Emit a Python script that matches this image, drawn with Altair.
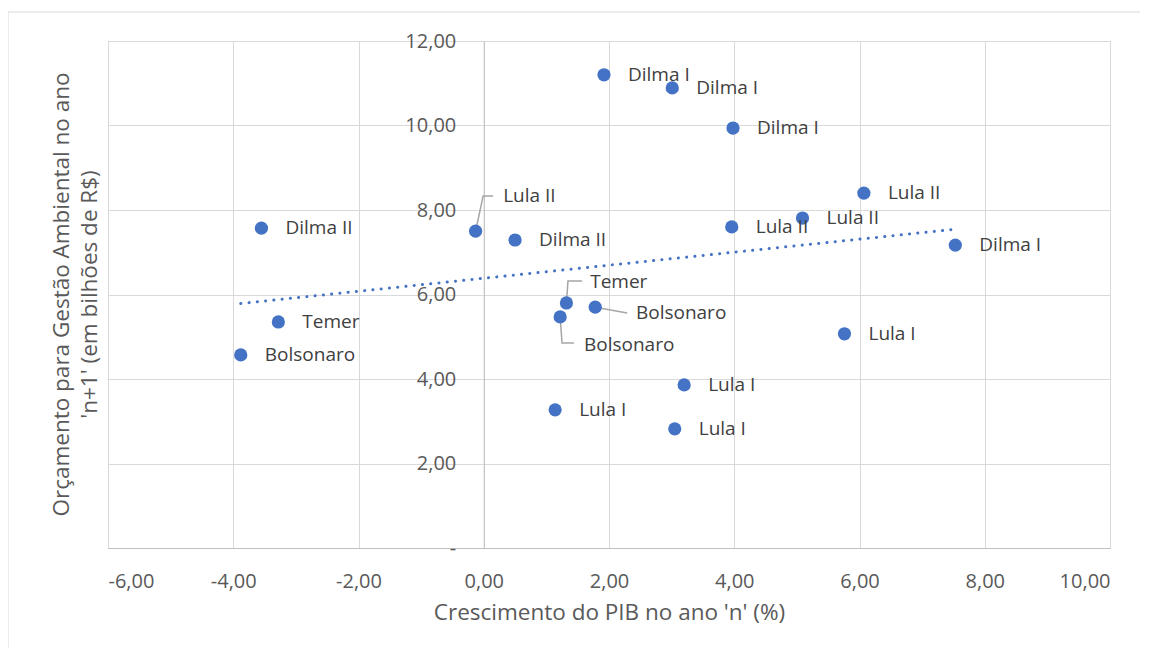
import altair as alt
import pandas as pd

# ---------------- data ----------------
governo = ["Dilma I", "Dilma I", "Dilma I", "Lula II", "Lula II", "Lula II", "Dilma I",
           "Dilma II", "Lula II", "Dilma II", "Temer", "Bolsonaro", "Bolsonaro", "Temer",
           "Bolsonaro", "Lula I", "Lula I", "Lula I", "Lula I"]
pib = [1.92, 3.01, 3.98, 6.07, 5.09, 3.96, 7.53,
       -3.55, -0.13, 0.50, 1.32, 1.78, 1.22, -3.28,
       -3.88, 5.76, 3.20, 1.14, 3.05]
orcamento = [11.20, 10.89, 9.94, 8.40, 7.81, 7.60, 7.17,
             7.57, 7.50, 7.29, 5.80, 5.70, 5.47, 5.35,
             4.57, 5.07, 3.86, 3.27, 2.82]

x_ticks = [-6, -4, -2, 0, 2, 4, 6, 8, 10]
y_ticks = [0, 2, 4, 6, 8, 10, 12]

# labels that Excel placed away from their point, with a leader line
callout_index = [8, 10, 11, 12]
callout_text_x = [0.31, 1.70, 2.43, 1.60]
callout_text_y = [8.33, 6.30, 5.56, 4.80]
leader_elbow_x = [[-0.01, 0.15], [1.345, 1.57], [2.29], [1.25, 1.44]]
leader_elbow_y = [[8.33, 8.33], [6.32, 6.32], [5.56], [4.85, 4.85]]

# ---------------- tables ----------------
pts = pd.DataFrame({"governo": governo, "pib": pib, "orc": orcamento})
pts["callout"] = [i in callout_index for i in range(len(pts))]

lead_rows = []
for k, idx in enumerate(callout_index):
    lead_rows.append({"g": k, "o": 0, "pib": pib[idx], "orc": orcamento[idx]})
    for j, (ex, ey) in enumerate(zip(leader_elbow_x[k], leader_elbow_y[k])):
        lead_rows.append({"g": k, "o": j + 1, "pib": ex, "orc": ey})
leaders = pd.DataFrame(lead_rows)

callouts = pd.DataFrame({
    "governo": [governo[i] for i in callout_index],
    "pib": callout_text_x,
    "orc": callout_text_y,
})

FONT = "Open Sans"
BLUE = "#4472C4"
GRID = "#d9d9d9"
AXIS = "#bfbfbf"
TXT = "#595959"

common_axis = dict(
    labelFont=FONT, titleFont=FONT, labelFontSize=20, titleFontSize=22.5,
    labelColor=TXT, titleColor=TXT, titleFontWeight="normal",
    ticks=False, domainColor=AXIS, gridColor=GRID,
)

num_fmt = "replace(replace(format(datum.value, '.2f'), '.', ','), '\u2212', '-')"

x_enc = alt.X(
    "pib:Q",
    scale=alt.Scale(domain=[-6, 10], nice=False, zero=False),
    axis=alt.Axis(
        values=x_ticks,
        labelExpr=num_fmt,
        title="Crescimento do PIB no ano 'n' (%)",
        labelPadding=23,
        titlePadding=10,
        **common_axis,
    ),
)
y_enc = alt.Y(
    "orc:Q",
    scale=alt.Scale(domain=[0, 12], nice=False),
    axis=alt.Axis(
        values=y_ticks,
        labelExpr="datum.value == 0 ? '-\u00a0\u00a0' : " + num_fmt,
        title=["Orçamento para Gestão Ambiental no ano", "'n+1' (em bilhões de R$)"],
        offset=-375.75,
        labelPadding=28,
        titleX=-422,
        titleY=253,
        titleAngle=270,
        titleAlign="center",
        titleBaseline="middle",
        titleLineHeight=28,
        **common_axis,
    ),
)

frame = alt.Chart(alt.Data(values=[{"a": 1}])).mark_rect(
    fill=None, stroke=GRID, strokeWidth=1
).encode(
    x=alt.value(-100), x2=alt.value(1060), y=alt.value(-29), y2=alt.value(700)
)

trend = alt.Chart(pts).transform_regression("pib", "orc").mark_line(
    color=BLUE, strokeWidth=3, strokeDash=[0.1, 8.2], strokeCap="round"
).encode(x=x_enc, y=y_enc)

lead = alt.Chart(leaders).mark_line(color="#a6a6a6", strokeWidth=1.5).encode(
    x=x_enc, y=y_enc, detail="g:N", order="o:Q"
)

points = alt.Chart(pts).mark_point(
    filled=True, size=175, color=BLUE, opacity=1
).encode(x=x_enc, y=y_enc)

labels = alt.Chart(pts).transform_filter("!datum.callout").mark_text(
    align="left", baseline="middle", dx=24, fontSize=19, font=FONT, color="#404040"
).encode(x=x_enc, y=y_enc, text="governo:N")

clabels = alt.Chart(callouts).mark_text(
    align="left", baseline="middle", fontSize=19, font=FONT, color="#404040"
).encode(x=x_enc, y=y_enc, text="governo:N")

chart = alt.layer(frame, trend, lead, points, labels, clabels).properties(
    width=1002,
    height=507,
    autosize=alt.AutoSizeParams(type="none"),
    padding={"left": 100, "top": 33, "right": 30, "bottom": 100},
    background="white",
).configure_view(
    stroke=GRID
)

chart.save("out.html", embed_options={"renderer": "svg", "actions": False})
